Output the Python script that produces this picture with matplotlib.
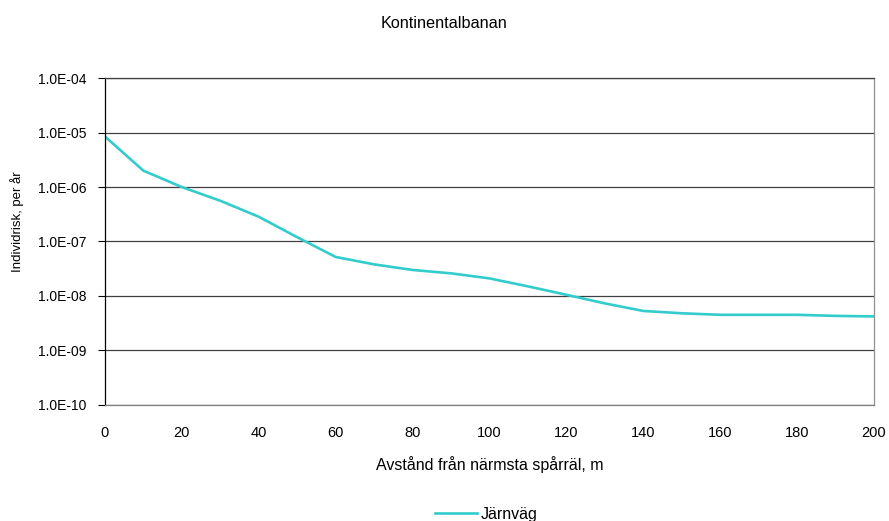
import numpy as np
import matplotlib.pyplot as plt
from matplotlib.ticker import FuncFormatter, FixedLocator

plt.rcParams['font.family'] = ['Liberation Sans', 'DejaVu Sans']

avstand = [0, 10, 20, 30, 40, 50, 60, 70, 80, 90, 100, 110, 120, 130, 140, 150, 160, 170, 180, 190, 200]
risk = [8.5e-6, 2.0e-6, 1.0e-6, 5.6e-7, 2.85e-7, 1.2e-7, 5.2e-8, 3.8e-8, 3.0e-8, 2.6e-8, 2.1e-8,
        1.5e-8, 1.05e-8, 7.3e-9, 5.3e-9, 4.8e-9, 4.5e-9, 4.5e-9, 4.5e-9, 4.3e-9, 4.2e-9]
yticks = [1e-10, 1e-9, 1e-8, 1e-7, 1e-6, 1e-5, 1e-4]

fig = plt.figure(figsize=(8.89, 5.21), dpi=100)
ax = fig.add_axes([0.118, 0.223, 0.865, 0.627])
ax.plot(avstand, risk, color='#33CCCC', lw=1.9, label='Järnväg')
ax.set_yscale('log')
ax.set_ylim(1e-10, 1e-4)
ax.set_xlim(0, 200)
ax.yaxis.set_major_locator(FixedLocator(yticks))
ax.yaxis.set_minor_locator(FixedLocator([]))
ax.yaxis.set_major_formatter(FuncFormatter(lambda v, p: '%.1fE-%02d' % (1.0, round(-np.log10(v)))))
ax.set_xticks(np.arange(0, 201, 20))
ax.grid(axis='y', color='#404040', lw=0.9)
ax.tick_params(axis='y', direction='out', length=5, width=0.8, labelsize=10, pad=8)
ax.tick_params(axis='x', length=0, labelsize=10.5, pad=15)
ax.spines['left'].set_color('black')
ax.spines['bottom'].set_color('#808080')
ax.spines['right'].set_color('#909090')
ax.spines['top'].set_color('#404040')
for s in ax.spines.values():
    s.set_linewidth(0.9)
ax.set_xlabel('Avstånd från närmsta spårräl, m', fontsize=11.5, labelpad=12)
ax.set_ylabel('Individrisk, per år', fontsize=9.5)
ax.yaxis.set_label_coords(-0.105, 0.56)
fig.text(0.5, 0.955, 'Kontinentalbanan', ha='center', va='center', fontsize=11.7)
fig.legend(loc='center', bbox_to_anchor=(0.547, 0.013), frameon=False, fontsize=11.5,
           handlelength=2.6, handletextpad=0.2)
fig.savefig('out.png', dpi=100)
